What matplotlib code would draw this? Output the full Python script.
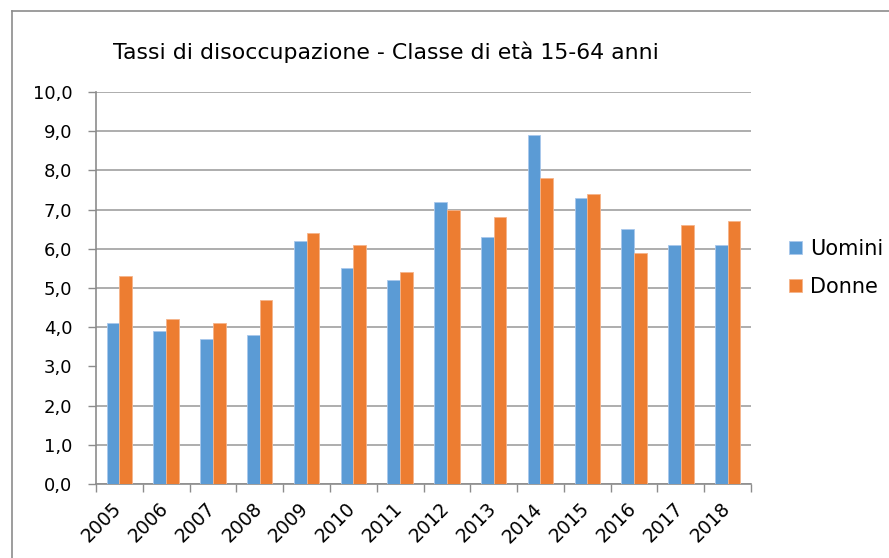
import matplotlib
matplotlib.use("Agg")
import matplotlib.pyplot as plt
from matplotlib.lines import Line2D
from matplotlib.transforms import ScaledTranslation
import numpy as np

# =========== DATA ==============#
anni = ["2005", "2006", "2007", "2008", "2009", "2010", "2011",
        "2012", "2013", "2014", "2015", "2016", "2017", "2018"]
uomini = [4.1, 3.9, 3.7, 3.8, 6.2, 5.5, 5.2, 7.2, 6.3, 8.9, 7.3, 6.5, 6.1, 6.1]
donne = [5.3, 4.2, 4.1, 4.7, 6.4, 6.1, 5.4, 7.0, 6.8, 7.8, 7.4, 5.9, 6.6, 6.7]
y_ticks = [0, 1, 2, 3, 4, 5, 6, 7, 8, 9, 10]

BLU = "#5b9bd5"
ARANCIO = "#ed7d31"
GRIGIO = "#8c8c8c"

# =========== SETUP ==============#
W, H = 889, 558
fig = plt.figure(figsize=(W / 100, H / 100), dpi=100)
ax = fig.add_axes([96 / W, 1 - 484 / H, (751 - 96) / W, (484 - 92) / H])

x = np.arange(len(anni))
w = 0.272
ax.bar(x - w / 2, uomini, w, color=BLU, edgecolor="#a9c8ec", linewidth=0.6,
       label="Uomini", zorder=3)
ax.bar(x + w / 2, donne, w, color=ARANCIO, edgecolor="#f6b48a", linewidth=0.6,
       label="Donne", zorder=3)

ax.set_xlim(-0.5, len(anni) - 0.5)
ax.set_ylim(0, 10)

# y axis
ax.set_yticks(y_ticks)
ax.set_yticklabels([f"{v:.1f}".replace(".", ",") for v in y_ticks], fontsize=13)
ax.tick_params(axis="y", length=6, width=1, color=GRIGIO, pad=11)
ax.yaxis.grid(True, color="#a0a0a0", linewidth=1.2, zorder=0)
ax.set_axisbelow(True)
# the 3,0 gridline is not drawn in the original
ax.get_ygridlines()[3].set_visible(False)

# x axis: tick marks between categories, labels at centres
ax.set_xticks(x)
ax.set_xticklabels(anni, rotation=45, ha="right", fontsize=13.5)
ax.set_xticks(np.arange(len(anni) + 1) - 0.5, minor=True)
ax.tick_params(axis="x", which="major", length=0, pad=11)
ax.tick_params(axis="x", which="minor", length=6, width=1, color=GRIGIO)
off = ScaledTranslation(6 / 100, 0, fig.dpi_scale_trans)
for lab in ax.get_xticklabels():
    lab.set_transform(lab.get_transform() + off)

for s in ("top", "right"):
    ax.spines[s].set_visible(False)
for s in ("left", "bottom"):
    ax.spines[s].set_color(GRIGIO)
    ax.spines[s].set_linewidth(1.2)

# title
fig.text(113 / W, 1 - 52 / H, "Tassi di disoccupazione - Classe di età 15-64 anni",
         fontsize=15.8, ha="left", va="center")

# legend
ax.legend(loc="center left", bbox_to_anchor=(789 / W, 1 - 268 / H),
          bbox_transform=fig.transFigure, frameon=False, fontsize=15,
          handlelength=0.6, handleheight=0.6, handletextpad=0.4,
          labelspacing=0.85, borderpad=0, borderaxespad=0)

# outer chart frame (top and left edges visible in the crop)
fig.add_artist(Line2D([12 / W, 1], [1 - 11 / H, 1 - 11 / H],
                      transform=fig.transFigure, color=GRIGIO, linewidth=1.2))
fig.add_artist(Line2D([12 / W, 12 / W], [0, 1 - 11 / H],
                      transform=fig.transFigure, color=GRIGIO, linewidth=1.2))

fig.savefig("out.png", dpi=100)
